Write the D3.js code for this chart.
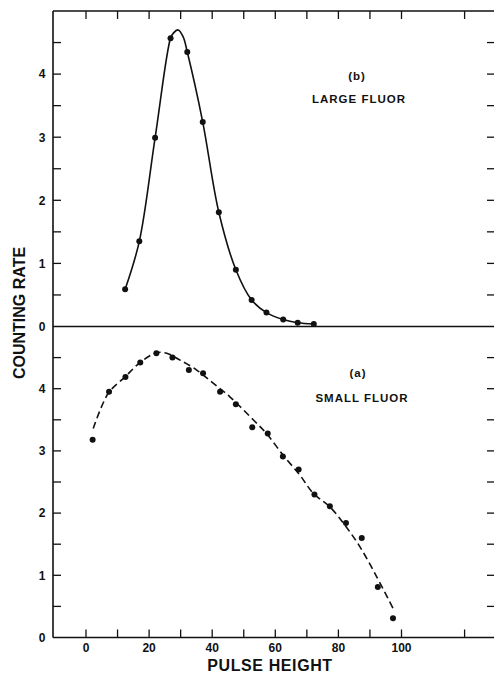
<!DOCTYPE html>
<html lang="en">
<head>
  <meta charset="utf-8">
  <title>Counting rate vs pulse height</title>
  <style>
    body { margin: 0; background: #fff; }
    svg text { font-family: "Liberation Sans", Arial, sans-serif; font-weight: bold; fill: #111; }
  </style>
</head>
<body>
  <svg id="chart"></svg>

  <script src="https://d3js.org/d3.v7.min.js"></script>
  <script>
    // (b) large fluor - measured points
    const largeX = [12.4, 16.9, 21.9, 26.8, 32.1, 37.0, 42.1, 47.5, 52.5, 57.2, 62.5, 67.1, 72.2];
    const largeY = [0.59, 1.35, 2.99, 4.57, 4.35, 3.24, 1.81, 0.90, 0.42, 0.22, 0.11, 0.06, 0.04];
    // (b) drawn curve
    const largeCurveX = [12.4, 16.9, 21.9, 26.8, 27.7, 29.2, 30.8, 32.1, 37.0, 42.1, 47.5, 52.5, 57.2, 62.5, 67.1, 72.2];
    const largeCurveY = [0.59, 1.35, 2.99, 4.57, 4.65, 4.70, 4.59, 4.35, 3.24, 1.81, 0.90, 0.42, 0.22, 0.11, 0.06, 0.04];

    // (a) small fluor - measured points
    const smallX = [2.1, 7.3, 12.5, 17.2, 22.3, 27.4, 32.6, 37.1, 42.5, 47.5, 52.7, 57.6, 62.4, 67.4, 72.4, 77.3, 82.4, 87.4, 92.5, 97.3];
    const smallY = [3.18, 3.95, 4.19, 4.42, 4.57, 4.50, 4.30, 4.25, 3.95, 3.75, 3.38, 3.28, 2.91, 2.70, 2.30, 2.11, 1.84, 1.60, 0.81, 0.31];
    // (a) dashed fitted curve
    const smallCurveX = [2.3, 7.1, 12.4, 17.1, 22.4, 25.6, 29.8, 35.1, 40.3, 45.6, 53.0, 57.2, 62.5, 67.8, 72.0, 77.3, 82.0, 86.8, 92.1, 97.3];
    const smallCurveY = [3.36, 3.93, 4.19, 4.42, 4.58, 4.57, 4.46, 4.30, 4.09, 3.87, 3.50, 3.28, 2.93, 2.61, 2.32, 2.10, 1.81, 1.46, 0.98, 0.47];

    const xTicks = [0, 10, 20, 30, 40, 50, 60, 70, 80, 90, 100, 120];
    const xTickLabels = [0, 20, 40, 60, 80, 100];
    const yMinorTicks = [0.5, 1, 1.5, 2, 2.5, 3, 3.5, 4, 4.5];
    const yTickLabels = [0, 1, 2, 3, 4];

    const width = 494, height = 678;
    const plotLeft = 53, plotRight = 495, plotTop = 11, plotMid = 326.5, plotBottom = 637.5;

    const svg = d3.select("#chart")
      .attr("width", width)
      .attr("height", height);

    const x = d3.scaleLinear().domain([0, 100]).range([86, 401.5]);
    const yTop = d3.scaleLinear().domain([0, 5]).range([plotMid, plotTop]);
    const yBot = d3.scaleLinear().domain([0, 5]).range([plotBottom, plotMid]);

    const ink = "#111";

    // frame
    const frame = svg.append("g").attr("stroke", ink).attr("stroke-width", 1.3);
    frame.append("line").attr("x1", plotLeft).attr("x2", plotLeft).attr("y1", plotTop).attr("y2", plotBottom).attr("stroke-width", 1.6);
    frame.append("line").attr("x1", plotRight).attr("x2", plotRight).attr("y1", plotTop).attr("y2", plotBottom);
    [plotTop, plotMid, plotBottom].forEach(yy => {
      frame.append("line").attr("x1", plotLeft).attr("x2", plotRight).attr("y1", yy).attr("y2", yy);
    });

    // x ticks (top and bottom, pointing inward)
    const ticks = svg.append("g").attr("stroke", ink).attr("stroke-width", 1.3);
    ticks.append("g").selectAll("line").data(xTicks).join("line")
      .attr("x1", d => x(d)).attr("x2", d => x(d))
      .attr("y1", plotTop).attr("y2", plotTop + 8);
    ticks.append("g").selectAll("line").data(xTicks).join("line")
      .attr("x1", d => x(d)).attr("x2", d => x(d))
      .attr("y1", plotBottom).attr("y2", plotBottom - 8);

    // y ticks, both panels, left and right sides
    [yTop, yBot].forEach(ys => {
      yMinorTicks.forEach(v => {
        ticks.append("line").attr("x1", plotLeft).attr("x2", plotLeft + 8).attr("y1", ys(v)).attr("y2", ys(v));
        ticks.append("line").attr("x1", plotRight - 8).attr("x2", plotRight).attr("y1", ys(v)).attr("y2", ys(v));
      });
    });

    // tick labels
    const labels = svg.append("g").attr("font-size", 12).attr("text-anchor", "middle");
    [yTop, yBot].forEach(ys => {
      labels.append("g").selectAll("text").data(yTickLabels).join("text")
        .attr("x", 42)
        .attr("y", d => ys(d))
        .attr("dy", "0.36em")
        .text(d => d);
    });
    labels.append("g").selectAll("text").data(xTickLabels).join("text")
      .attr("x", d => x(d))
      .attr("y", 652)
      .text(d => d);

    // axis titles
    svg.append("text")
      .attr("x", 270).attr("y", 671)
      .attr("text-anchor", "middle")
      .attr("font-size", 16)
      .attr("letter-spacing", 0.6)
      .text("PULSE HEIGHT");
    svg.append("text")
      .attr("transform", "translate(25,313) rotate(-90)")
      .attr("text-anchor", "middle")
      .attr("font-size", 16)
      .text("COUNTING RATE");

    // panel annotations
    const notes = svg.append("g").attr("text-anchor", "middle").attr("font-size", 11.5).attr("letter-spacing", 1);
    notes.append("text").attr("x", 357).attr("y", 80).text("(b)");
    notes.append("text").attr("x", 359).attr("y", 103).text("LARGE FLUOR");
    notes.append("text").attr("x", 358).attr("y", 377).text("(a)");
    notes.append("text").attr("x", 362).attr("y", 402).text("SMALL FLUOR");

    const lineTop = d3.line().curve(d3.curveCatmullRom.alpha(0.5))
      .x(i => x(largeCurveX[i])).y(i => yTop(largeCurveY[i]));
    const lineBot = d3.line().curve(d3.curveCatmullRom.alpha(0.5))
      .x(i => x(smallCurveX[i])).y(i => yBot(smallCurveY[i]));

    svg.append("path")
      .attr("d", lineTop(d3.range(largeCurveX.length)))
      .attr("fill", "none").attr("stroke", ink).attr("stroke-width", 1.6);

    svg.append("path")
      .attr("d", lineBot(d3.range(smallCurveX.length)))
      .attr("fill", "none").attr("stroke", ink).attr("stroke-width", 1.6)
      .attr("stroke-dasharray", "7,4");

    // data points
    svg.append("g").selectAll("circle").data(d3.range(largeX.length)).join("circle")
      .attr("cx", i => x(largeX[i])).attr("cy", i => yTop(largeY[i]))
      .attr("r", 3).attr("fill", ink);
    svg.append("g").selectAll("circle").data(d3.range(smallX.length)).join("circle")
      .attr("cx", i => x(smallX[i])).attr("cy", i => yBot(smallY[i]))
      .attr("r", 3).attr("fill", ink);
  </script>
</body>
</html>
